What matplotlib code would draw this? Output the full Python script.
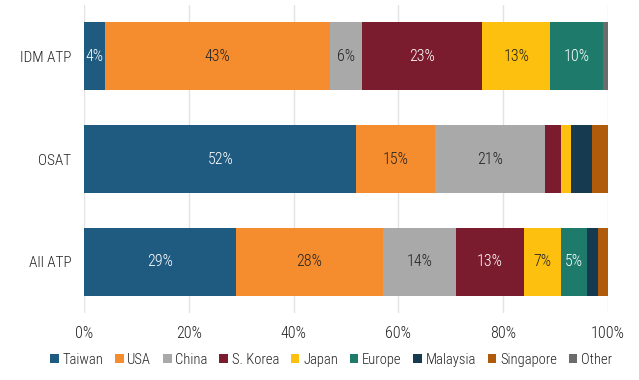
import matplotlib.pyplot as plt

plt.rcParams['font.family'] = ['Roboto Condensed', 'DejaVu Sans']
plt.rcParams['font.weight'] = 'light'

groups = ['IDM ATP', 'OSAT', 'All ATP']
regions = ['Taiwan', 'USA', 'China', 'S. Korea', 'Japan', 'Europe',
           'Malaysia', 'Singapore', 'Other']
colors = ['#1f5a80', '#f58d2e', '#a9a9a9', '#7a1c2e', '#fdc00f', '#1e7b6b',
          '#163a4f', '#b05a0c', '#6b6b6b']
text_colors = ['white', '#222222', '#222222', 'white', '#222222', 'white',
               'white', 'white', 'white']

# share of each region, in percent, per group (IDM ATP, OSAT, All ATP)
taiwan = [4, 52, 29]
usa = [43, 15, 28]
china = [6, 21, 14]
korea = [23, 3, 13]
japan = [13, 2, 7]
europe = [10, 0, 5]
malaysia = [0, 4, 2]
singapore = [0, 3, 2]
other = [1, 0, 0]
series = [taiwan, usa, china, korea, japan, europe, malaysia, singapore, other]

fig = plt.figure(figsize=(6.39, 3.8), dpi=100)
ax = fig.add_axes([0.1315, 0.176, 0.82, 0.811])

left = [0, 0, 0]
for name, vals, col, tcol in zip(regions, series, colors, text_colors):
    ax.barh(range(len(groups)), vals, left=left, height=0.66, color=col,
            label=name, zorder=2)
    for i, v in enumerate(vals):
        if v >= 5 or (i == 0 and name == 'Taiwan'):
            ax.text(left[i] + v / 2, i, f'{v}%', ha='center', va='center',
                    color=tcol, fontsize=11.5, zorder=3)
    left = [a + b for a, b in zip(left, vals)]

ax.set_xlim(0, 100)
ax.set_ylim(2.5, -0.5)
ax.set_yticks(range(len(groups)))
ax.set_yticklabels(groups, fontsize=11, color='#222222')
ax.set_xticks(range(0, 101, 20))
ax.set_xticklabels([f'{t}%' for t in range(0, 101, 20)], fontsize=11.5,
                   color='#222222')
ax.tick_params(axis='y', length=0, pad=9)
ax.tick_params(axis='x', length=0, pad=9)
ax.grid(axis='x', color='#e3e3e3', linewidth=1, zorder=0)
for s in ax.spines.values():
    s.set_visible(False)

fig.legend(loc='lower center', bbox_to_anchor=(0.518, 0.0), ncol=9,
           frameon=False, fontsize=10.5, handlelength=0.6, handleheight=0.6,
           handletextpad=0.25, columnspacing=0.8, labelcolor='#222222')

fig.savefig('out.png', dpi=100)
